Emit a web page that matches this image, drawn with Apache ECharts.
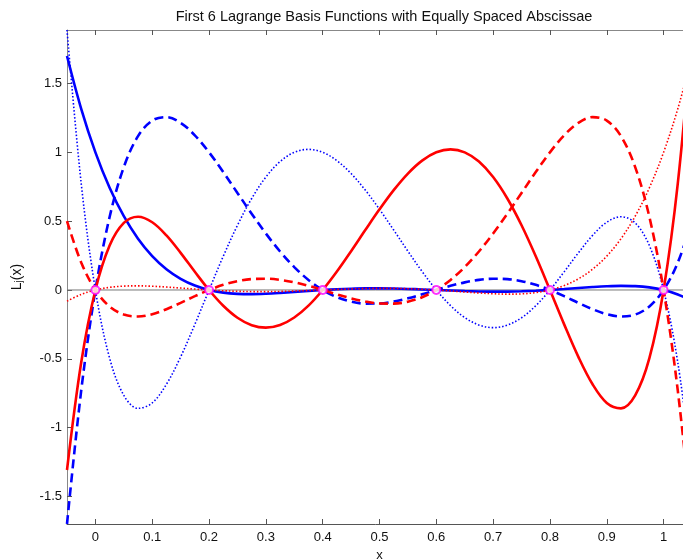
<!DOCTYPE html>
<html>
<head>
<meta charset="utf-8">
<script src="https://cdn.jsdelivr.net/npm/echarts@6/dist/echarts.min.js"></script>
<style>html,body{margin:0;padding:0;background:#fff;overflow:hidden}#c{width:683px;height:559px}</style>
</head>
<body>
<div id="c"></div>
<script>
// x sample positions
var xs = [-0.05,-0.025,0,0.025,0.05,0.075,0.1,0.125,0.15,0.175,0.2,0.225,0.25,0.275,0.3,0.325,0.35,0.375,0.4,0.425,0.45,0.475,0.5,
  0.525,0.55,0.575,0.6,0.625,0.65,0.675,0.7,0.725,0.75,0.775,0.8,0.825,0.85,0.875,0.9,0.925,0.95,0.975,1,1.025,1.05];

var L0 = [1.6996,1.3161,1,0.7425,0.5358,0.3725,0.2461,0.1507,0.0809,0.0321,0,-0.0190,-0.0282,-0.0302,-0.0273,-0.0215,-0.0143,-0.0068,0,0.0055,0.0094,0.0115,0.0117,
  0.0104,0.0077,0.0041,0,-0.0041,-0.0077,-0.0104,-0.0117,-0.0115,-0.0094,-0.0055,0,0.0068,0.0143,0.0215,0.0273,0.0302,0.0282,0.0190,0,-0.0321,-0.0809];
var L1 = [-1.6996,-0.7312,0,0.5304,0.8929,1.1174,1.2305,1.2557,1.2140,1.1235,1,0.8568,0.7050,0.5537,0.4102,0.2798,0.1666,0.0730,0,-0.0522,-0.0846,-0.0989,-0.0977,
  -0.0837,-0.0604,-0.0313,0,0.0300,0.0555,0.0736,0.0820,0.0791,0.0641,0.0373,0,-0.0449,-0.0934,-0.1395,-0.1758,-0.1927,-0.1786,-0.1198,0,0.1994,0.4999];
var L2 = [1.8884,0.7742,0,-0.4950,-0.7654,-0.8596,-0.8203,-0.6849,-0.4856,-0.2497,0,0.2448,0.4700,0.6644,0.8203,0.9328,0.9998,1.0214,1,0.9397,0.8459,0.7255,0.5859,
  0.4353,0.2820,0.1342,0,-0.1135,-0.2000,-0.2544,-0.2734,-0.2555,-0.2014,-0.1142,0,0.1322,0.2698,0.3965,0.4922,0.5321,0.4871,0.3228,0,-0.5265,-1.3074];
var L3 = [-1.3074,-0.5265,0,0.3228,0.4871,0.5321,0.4922,0.3965,0.2698,0.1322,0,-0.1142,-0.2014,-0.2555,-0.2734,-0.2544,-0.2000,-0.1135,0,0.1342,0.2820,0.4353,0.5859,
  0.7255,0.8459,0.9397,1,1.0214,0.9998,0.9328,0.8203,0.6644,0.4700,0.2448,0,-0.2497,-0.4856,-0.6849,-0.8203,-0.8596,-0.7654,-0.4950,0,0.7742,1.8884];
var L4 = [0.4999,0.1994,0,-0.1198,-0.1786,-0.1927,-0.1758,-0.1395,-0.0934,-0.0449,0,0.0373,0.0641,0.0791,0.0820,0.0736,0.0555,0.0300,0,-0.0313,-0.0604,-0.0837,-0.0977,
  -0.0989,-0.0846,-0.0522,0,0.0730,0.1666,0.2798,0.4102,0.5537,0.7050,0.8568,1,1.1235,1.2140,1.2557,1.2305,1.1174,0.8929,0.5304,0,-0.7312,-1.6996];
var L5 = [-0.0809,-0.0321,0,0.0190,0.0282,0.0302,0.0273,0.0215,0.0143,0.0068,0,-0.0055,-0.0094,-0.0115,-0.0117,-0.0104,-0.0077,-0.0041,0,0.0041,0.0077,0.0104,0.0117,
  0.0115,0.0094,0.0055,0,-0.0068,-0.0143,-0.0215,-0.0273,-0.0302,-0.0282,-0.0190,0,0.0321,0.0809,0.1507,0.2461,0.3725,0.5358,0.7425,1,1.3161,1.6996];

// nodes (equally spaced abscissae)
var nodesX = [0,0.2,0.4,0.6,0.8,1];
var nodesY = [0,0,0,0,0,0];

var xTicks = [0,0.1,0.2,0.3,0.4,0.5,0.6,0.7,0.8,0.9,1];
var yTicks = [-1.5,-1,-0.5,0,0.5,1,1.5];
var xRange = [-0.05,1.05];
var yRange = [-1.6996,1.8884];

function pairs(ys){ return xs.map(function(x,i){ return [x, ys[i]]; }); }

var FONT = 'Liberation Sans, Arial, sans-serif';
var axisCol = '#555';

function lineSeries(ys, color, type, width){
  return {type:'line', data:pairs(ys), showSymbol:false, smooth:0.35, animation:false,
    lineStyle:{color:color, width:width, type:type}, z:3};
}

var chart = echarts.init(document.getElementById('c'), null, {renderer:'canvas'});
chart.setOption({
  animation:false,
  title:{text:'First 6 Lagrange Basis Functions with Equally Spaced Abscissae', left:379, top:4, textAlign:'center',
    textStyle:{fontFamily:FONT, fontSize:14.5, fontWeight:'normal', color:'#111'}},
  grid:{left:67, top:30, width:625, height:494, outerBoundsMode:'none', containLabel:false},
  xAxis:[{type:'value', min:xRange[0], max:xRange[1], position:'bottom',
      name:'x', nameLocation:'middle', nameGap:21, nameTextStyle:{fontFamily:FONT, fontSize:13, color:'#111'},
      axisLine:{show:true, onZero:false, lineStyle:{color:axisCol, width:1}},
      axisTick:{show:true, inside:true, length:5, customValues:xTicks, lineStyle:{color:axisCol}},
      axisLabel:{customValues:xTicks, fontFamily:FONT, fontSize:13, color:'#111', margin:7,
        formatter:function(v){return String(v);}},
      splitLine:{show:false}},
    {type:'value', min:xRange[0], max:xRange[1], position:'top',
      axisLine:{show:true, onZero:false, lineStyle:{color:'#888', width:1}},
      axisTick:{show:true, inside:true, length:5, customValues:xTicks, lineStyle:{color:axisCol}},
      axisLabel:{show:false}, splitLine:{show:false}}],
  yAxis:[{type:'value', min:yRange[0], max:yRange[1], position:'left',
      name:'L{s|j}(x)', nameLocation:'middle', nameGap:43, nameRotate:90,
      nameTextStyle:{fontFamily:FONT, fontSize:14, color:'#111', rich:{s:{fontFamily:FONT, fontSize:10, color:'#111', verticalAlign:'bottom'}}},
      axisLine:{show:true, onZero:false, lineStyle:{color:'#888', width:1}},
      axisTick:{show:true, inside:true, length:5, customValues:yTicks, lineStyle:{color:axisCol}},
      axisLabel:{customValues:yTicks, fontFamily:FONT, fontSize:13, color:'#111', margin:5,
        formatter:function(v){return String(v);}},
      splitLine:{show:false}},
    {type:'value', min:yRange[0], max:yRange[1], position:'right',
      axisLine:{show:true, onZero:false, lineStyle:{color:axisCol, width:1}},
      axisTick:{show:true, inside:true, length:5, customValues:yTicks, lineStyle:{color:axisCol}},
      axisLabel:{show:false}, splitLine:{show:false}}],
  series:[
    {type:'line', data:[[xRange[0],0],[xRange[1],0]], showSymbol:false, animation:false,
      lineStyle:{color:'#777', width:1}, z:2},
    lineSeries(L0, '#0000ff', 'solid', 2.6),
    lineSeries(L1, '#0000ff', [9,5], 2.6),
    lineSeries(L2, '#0000ff', [1.5,2], 1.6),
    lineSeries(L3, '#ff0000', 'solid', 2.6),
    lineSeries(L4, '#ff0000', [9,5], 2.6),
    lineSeries(L5, '#ff0000', [1.5,2], 1.6),
    {type:'scatter', data:nodesX.map(function(x,i){return [x,nodesY[i]];}), symbol:'emptyCircle', symbolSize:8,
      itemStyle:{color:'#ff00ff', borderColor:'#ff00ff', borderWidth:3}, z:5, animation:false}
  ]
});
</script>
</body>
</html>
